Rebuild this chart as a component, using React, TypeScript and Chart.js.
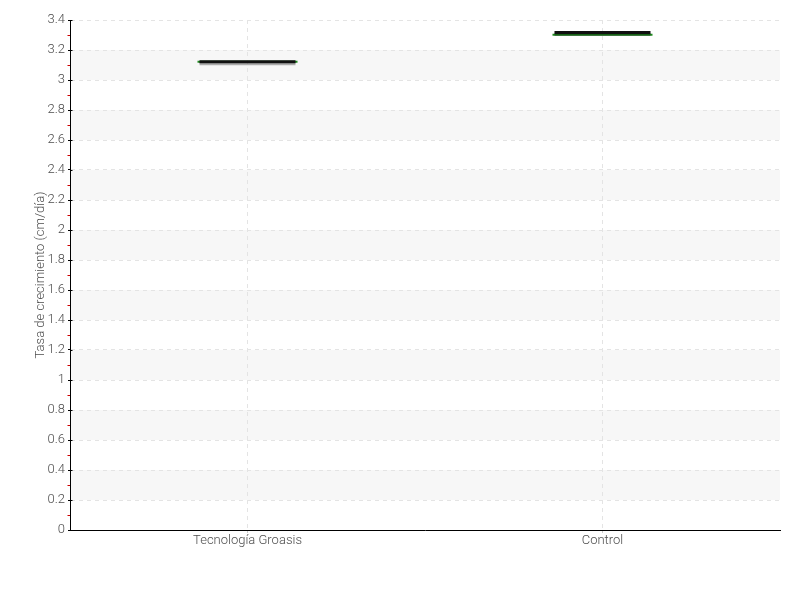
import React, { useEffect, useRef } from "react";
import { Chart, registerables } from "chart.js";

Chart.register(...registerables);

const categories = ["Tecnología Groasis", "Control"];
const meanValues = [3.122, 3.317];
const greenValues = [3.122, 3.301];
const yMin = 0;
const yMax = 3.4;
const yStep = 0.2;
const yAxisTitle = "Tasa de crecimiento (cm/día)";

const FONT = "Roboto, 'Open Sans', sans-serif";
const TEXT = "#4d4d4d";

const bandsPlugin = {
  id: "bands",
  beforeDraw(chart: any) {
    const { ctx, chartArea, scales } = chart;
    const y = scales.y;
    const ticks = y.ticks;
    ctx.save();
    ctx.fillStyle = "#f7f7f7";
    for (let i = 1; i < ticks.length - 1; i += 2) {
      const p1 = y.getPixelForValue(ticks[i].value);
      const p2 = y.getPixelForValue(ticks[i + 1].value);
      ctx.fillRect(chartArea.left, p2, chartArea.right - chartArea.left, p1 - p2);
    }
    ctx.restore();
  },
  afterDraw(chart: any) {
    const { ctx, chartArea, scales } = chart;
    const y = scales.y;
    const ticks = y.ticks;
    ctx.save();
    ctx.lineWidth = 1;
    ctx.strokeStyle = "#cc0000";
    for (let i = 0; i < ticks.length - 1; i++) {
      const mid = (ticks[i].value + ticks[i + 1].value) / 2;
      const p = Math.round(y.getPixelForValue(mid)) + 0.5;
      ctx.beginPath();
      ctx.moveTo(chartArea.left - 2.5, p);
      ctx.lineTo(chartArea.left, p);
      ctx.stroke();
    }
    ctx.strokeStyle = "#000";
    for (let i = 0; i < ticks.length; i++) {
      const p = Math.round(y.getPixelForValue(ticks[i].value)) + 0.5;
      ctx.beginPath();
      ctx.moveTo(chartArea.left, p);
      ctx.lineTo(chartArea.left + 2.5, p);
      ctx.stroke();
    }
    ctx.restore();
  },
};

const shadowPlugin = {
  id: "lineShadow",
  beforeDatasetDraw(chart: any, args: any) {
    if (args.index === 0) {
      chart.ctx.save();
      chart.ctx.shadowColor = "rgba(0,0,0,0.3)";
      chart.ctx.shadowOffsetY = 2;
      chart.ctx.shadowBlur = 0;
    }
  },
  afterDatasetDraw(chart: any, args: any) {
    if (args.index === 0) chart.ctx.restore();
  },
};

export default function App() {
  const ref = useRef<HTMLCanvasElement>(null);
  useEffect(() => {
    if (!ref.current) return;
    const chart = new Chart(ref.current, {
      type: "line",
      data: {
        labels: categories,
        datasets: [
          {
            label: "media",
            data: meanValues,
            showLine: false,
            pointStyle: "line",
            pointRadius: 48,
            pointHoverRadius: 48,
            pointBorderWidth: 3,
            pointBorderColor: "#111111",
            borderColor: "#111111",
          },
          {
            label: "verde",
            data: greenValues,
            showLine: false,
            pointStyle: "line",
            pointRadius: 50,
            pointHoverRadius: 50,
            pointBorderWidth: 2,
            pointBorderColor: "#1f8a1f",
            borderColor: "#1f8a1f",
          },
        ],
      },
      options: {
        animation: false,
        responsive: true,
        maintainAspectRatio: false,
        layout: { autoPadding: false, padding: { top: 20, right: 20, left: 0, bottom: 0 } },
        plugins: { legend: { display: false }, tooltip: { enabled: false } },
        scales: {
          x: {
            type: "category",
            offset: true,
            grid: {
              offset: false,
              color: "#e4e4e4",
              tickColor: "#cccccc",
              tickLength: 3,
            },
            border: { color: "#000", width: 1, dash: [4, 4] },
            ticks: { color: TEXT, font: { family: FONT, size: 13, weight: "300" }, padding: 0 },
            afterFit: (s: any) => { s.height = 70; },
          },
          y: {
            min: yMin,
            max: yMax,
            grid: {
              color: "#e4e4e4",
              tickColor: "#000",
              tickLength: 2,
              tickBorderDash: [],
            },
            border: { color: "#000", width: 1, dash: [4, 4] },
            ticks: {
              stepSize: yStep,
              color: TEXT,
              padding: 3,
              font: { family: FONT, size: 13, weight: "300" },
              callback: (v: any) => String(Math.round(Number(v) * 10) / 10),
            },
            title: {
              display: true,
              text: yAxisTitle,
              color: TEXT,
              font: { family: FONT, size: 13, weight: "300" },
              padding: { top: 33, bottom: 0 },
            },
            afterFit: (s: any) => { s.width = 70; },
          },
        },
      },
      plugins: [bandsPlugin, shadowPlugin],
    });
    return () => chart.destroy();
  }, []);
  return (
    <div style={{ position: "absolute", left: 0, top: 0, width: 800, height: 600 }}>
      <canvas ref={ref} />
    </div>
  );
}
